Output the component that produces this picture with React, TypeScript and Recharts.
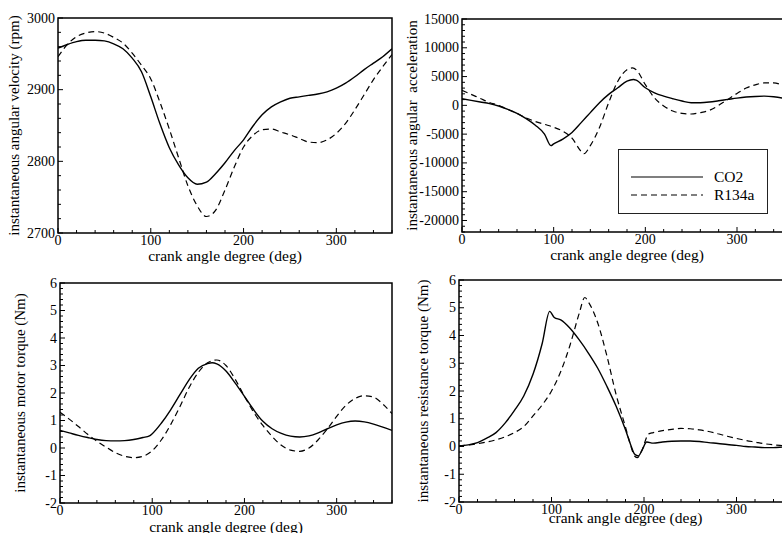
import React from 'react';
import { LineChart, Line, XAxis, YAxis, ReferenceArea, Legend } from 'recharts';

const FONT = "'Liberation Serif', 'DejaVu Serif', 'Times New Roman', serif";

// ---------- Panel 1: instantaneous angular velocity (rpm) ----------
const p1Angles = [0, 10, 20, 30, 40, 50, 60, 70, 80, 90, 100, 110, 120, 130, 140, 150, 160, 170, 180, 190, 200, 210, 220, 230, 240, 250, 260, 270, 280, 290, 300, 310, 320, 330, 340, 350, 360];
const p1Co2 = [2958, 2963, 2967, 2969, 2969, 2968, 2964, 2957, 2944, 2925, 2890, 2852, 2819, 2795, 2777, 2768, 2771, 2783, 2798, 2815, 2830, 2849, 2865, 2876, 2883, 2888, 2890, 2892, 2894, 2897, 2902, 2909, 2918, 2928, 2937, 2946, 2957];
const p1R134a = [2946, 2963, 2974, 2979, 2981, 2979, 2973, 2965, 2951, 2934, 2915, 2882, 2845, 2805, 2766, 2738, 2723, 2732, 2760, 2792, 2820, 2836, 2844, 2845, 2841, 2837, 2832, 2827, 2826, 2830, 2839, 2853, 2872, 2893, 2914, 2932, 2949];
const p1YLabels = [2700, 2800, 2900, 3000];

// ---------- Panel 2: instantaneous angular acceleration ----------
const p2Co2Angles = [0, 10, 20, 30, 40, 50, 60, 70, 80, 90, 97, 100, 110, 120, 130, 140, 150, 160, 170, 180, 187, 190, 200, 210, 220, 230, 240, 250, 260, 270, 280, 290, 300, 310, 320, 330, 340, 350, 360];
const p2Co2 = [1150, 860, 575, 290, -115, -690, -1380, -2300, -3450, -5000, -7000, -6700, -5860, -4700, -3000, -1260, 460, 1900, 3050, 4200, 4480, 4370, 3050, 2180, 1600, 1150, 750, 460, 460, 575, 800, 1030, 1260, 1440, 1550, 1600, 1500, 1260, 900];
const p2R134aAngles = [0, 10, 20, 30, 40, 50, 60, 70, 80, 90, 100, 110, 120, 130, 133, 140, 150, 160, 170, 180, 186, 190, 200, 210, 220, 230, 240, 250, 260, 270, 280, 290, 300, 310, 320, 330, 340, 350, 360];
const p2R134a = [2600, 1900, 1200, 500, 0, -700, -1400, -2200, -2800, -3300, -3800, -4500, -5700, -8000, -8400, -7000, -3850, 460, 4200, 6200, 6500, 6200, 3600, 1300, -100, -980, -1380, -1500, -1260, -860, 0, 1030, 2070, 3000, 3560, 3900, 3900, 3450, 2600];
const p2YLabels = [-20000, -15000, -10000, -5000, 0, 5000, 10000, 15000];

// ---------- Panel 3: instantaneous motor torque (Nm) ----------
const p3Co2Angles = [0, 10, 20, 30, 40, 50, 60, 70, 80, 90, 97, 100, 110, 120, 130, 140, 150, 160, 165, 170, 180, 190, 200, 210, 220, 230, 240, 250, 260, 270, 280, 290, 300, 310, 320, 330, 340, 350, 360];
const p3Co2 = [0.64, 0.55, 0.46, 0.38, 0.31, 0.27, 0.26, 0.27, 0.31, 0.38, 0.44, 0.52, 0.91, 1.39, 1.94, 2.48, 2.9, 3.07, 3.1, 3.06, 2.8, 2.36, 1.88, 1.39, 0.97, 0.7, 0.53, 0.43, 0.4, 0.44, 0.55, 0.7, 0.84, 0.94, 0.98, 0.95, 0.87, 0.76, 0.64];
const p3R134aAngles = [0, 10, 20, 30, 40, 50, 60, 70, 80, 90, 100, 110, 120, 130, 140, 150, 160, 170, 180, 190, 200, 210, 220, 230, 240, 250, 260, 270, 280, 290, 300, 310, 320, 330, 340, 350, 360];
const p3R134a = [1.3, 1.05, 0.78, 0.5, 0.25, 0.03, -0.17, -0.3, -0.35, -0.3, -0.1, 0.3, 0.85, 1.5, 2.2, 2.75, 3.1, 3.2, 3.0, 2.5, 1.88, 1.3, 0.82, 0.42, 0.1, -0.08, -0.12, 0.0, 0.3, 0.7, 1.15, 1.55, 1.8, 1.9, 1.85, 1.6, 1.25];
const p3YLabels = [-2, -1, 0, 1, 2, 3, 4, 5, 6];

// ---------- Panel 4: instantaneous resistance torque (Nm) ----------
const p4Co2Angles = [0, 10, 20, 30, 40, 50, 60, 70, 80, 90, 98, 103, 110, 120, 130, 140, 150, 160, 170, 180, 185, 190, 194, 198, 203, 210, 220, 230, 240, 250, 260, 270, 280, 290, 300, 310, 320, 330, 340, 350, 360];
const p4Co2 = [0.02, 0.06, 0.14, 0.3, 0.5, 0.85, 1.3, 1.82, 2.6, 3.72, 4.87, 4.65, 4.56, 4.26, 3.84, 3.36, 2.82, 2.16, 1.44, 0.6, 0.12, -0.28, -0.34, -0.12, 0.16, 0.12, 0.16, 0.19, 0.2, 0.2, 0.18, 0.14, 0.11, 0.07, 0.04, 0.0, -0.02, -0.04, -0.04, -0.02, 0.0];
const p4R134aAngles = [0, 10, 20, 30, 40, 50, 60, 70, 80, 90, 100, 110, 120, 130, 136, 140, 150, 160, 170, 180, 185, 190, 193, 197, 205, 210, 220, 230, 240, 250, 260, 270, 280, 290, 300, 310, 320, 330, 340, 350, 360];
const p4R134a = [0.02, 0.05, 0.1, 0.16, 0.24, 0.35, 0.5, 0.72, 1.1, 1.5, 2.0, 2.7, 3.65, 4.8, 5.37, 5.2, 4.45, 3.25, 1.85, 0.7, 0.1, -0.35, -0.4, -0.2, 0.45, 0.5, 0.57, 0.62, 0.65, 0.64, 0.6, 0.54, 0.46, 0.37, 0.29, 0.22, 0.16, 0.1, 0.06, 0.03, 0.0];
const p4YLabels = [-2, -1, 0, 1, 2, 3, 4, 5, 6];

const xLabels = [0, 100, 200, 300];
const seriesNames = ['CO2', 'R134a'];

// ---------- helpers ----------
const zip = (a: number[], v: number[]) => a.map((x, i) => ({ a: x, v: v[i] }));
const steps = (lo: number, hi: number, step: number) => {
  const out: number[] = [];
  const n = Math.round((hi - lo) / step);
  for (let i = 0; i <= n; i++) out.push(Math.round((lo + i * step) * 1000) / 1000);
  return out;
};
const xMinor = steps(0, 360, 20);

const textStyle = (size: number): React.CSSProperties => ({ fontFamily: FONT, fontSize: size });

const XTick = (props: any) => {
  const { x, y, payload, labels, dy } = props;
  const v = payload.value;
  const major = labels.includes(v);
  return (
    <g>
      <line x1={x} x2={x} y1={y} y2={y - (major ? 5 : 3)} stroke="#000" strokeWidth={1} />
      {major && (
        <text x={x} y={y + dy} textAnchor="middle" style={textStyle(14)} fill="#000">
          {v}
        </text>
      )}
    </g>
  );
};

const YTick = (props: any) => {
  const { x, y, payload, labels } = props;
  const v = payload.value;
  const major = labels.includes(v);
  return (
    <g>
      <line x1={x} x2={x + (major ? 5 : 3)} y1={y} y2={y} stroke="#000" strokeWidth={1} />
      {major && (
        <text x={x - 3} y={y + 4.5} textAnchor="end" style={textStyle(14)} fill="#000">
          {v}
        </text>
      )}
    </g>
  );
};

const XTitle = (props: any) => {
  const { viewBox, text, dy } = props;
  const cx = viewBox.x + viewBox.width / 2;
  return (
    <text x={cx} y={viewBox.y + dy} textAnchor="middle" style={textStyle(15.5)} fill="#000">
      {text}
    </text>
  );
};

const YTitle = (props: any) => {
  const { viewBox, text, px } = props;
  const cy = viewBox.y + viewBox.height / 2;
  const x = px;
  return (
    <text
      x={x}
      y={cy}
      transform={`rotate(-90 ${x} ${cy})`}
      textAnchor="middle"
      dominantBaseline="central"
      fill="#000"
      xmlSpace="preserve"
      style={{ ...textStyle(15), whiteSpace: 'pre' }}
    >
      {text}
    </text>
  );
};

const LegendBox = (props: any) => {
  const payload = props.payload || [];
  const rows = seriesNames.map((name, i) => {
    const entry = payload.find((p: any) => p.value === name);
    return { name, dash: i === 1 ? '6 4' : undefined, color: entry?.color || '#000' };
  });
  return (
    <svg width={151} height={66} style={{ display: 'block' }}>
      <rect x={0.5} y={0.5} width={149} height={64} fill="#fff" stroke="#222" strokeWidth={1} />
      {rows.map((r, i) => (
        <g key={r.name}>
          <line x1={13} x2={85} y1={28 + i * 18} y2={28 + i * 18} stroke="#000" strokeWidth={1.2} strokeDasharray={r.dash} />
          <text x={96} y={33 + i * 18} style={textStyle(15.5)} fill="#000">
            {r.name}
          </text>
        </g>
      ))}
    </svg>
  );
};

type PanelProps = {
  left: number;
  top: number;
  width: number;
  height: number;
  margin: { top: number; right: number; bottom: number; left: number };
  yAxisWidth: number;
  yDomain: [number, number];
  yTicks: number[];
  yLabels: number[];
  yTitle: string;
  yTitleX: number;
  xTitleDy: number;
  co2: { a: number; v: number }[];
  r134a: { a: number; v: number }[];
  legend?: boolean;
};

const Panel = (p: PanelProps) => (
  <div style={{ position: 'absolute', left: p.left, top: p.top, width: p.width, height: p.height, fontFamily: FONT }}>
    <LineChart width={p.width} height={p.height} margin={p.margin} style={{ fontFamily: FONT }}>
      <XAxis
        dataKey="a"
        type="number"
        domain={[0, 360]}
        ticks={xMinor}
        interval={0}
        allowDataOverflow
        height={30}
        tickSize={0}
        tickMargin={0}
        tickLine={false}
        axisLine={false}
        tick={<XTick labels={xLabels} dy={12} />}
        label={<XTitle text="crank angle degree (deg)" dy={p.xTitleDy} />}
      />
      <YAxis
        type="number"
        domain={p.yDomain}
        ticks={p.yTicks}
        interval={0}
        allowDataOverflow
        width={p.yAxisWidth}
        tickSize={0}
        tickMargin={0}
        tickLine={false}
        axisLine={false}
        tick={<YTick labels={p.yLabels} />}
        label={<YTitle text={p.yTitle} px={p.yTitleX} />}
      />
      <ReferenceArea x1={0} x2={360} y1={p.yDomain[0]} y2={p.yDomain[1]} fill="none" fillOpacity={0} stroke="#000" strokeWidth={1.5} ifOverflow="visible" />
      <Line data={p.co2} dataKey="v" name={seriesNames[0]} type="monotone" stroke="#000" strokeWidth={1.4} dot={false} isAnimationActive={false} />
      <Line data={p.r134a} dataKey="v" name={seriesNames[1]} type="monotone" stroke="#000" strokeWidth={1.2} strokeDasharray="6 4" dot={false} isAnimationActive={false} />
      {p.legend && (
        <Legend
          layout="horizontal"
          verticalAlign="middle"
          align="center"
          wrapperStyle={{ left: 218, top: 149, width: 151, height: 66 }}
          content={<LegendBox />}
        />
      )}
    </LineChart>
  </div>
);

export default function App() {
  return (
    <div style={{ position: 'fixed', left: 0, top: 0, width: 782, height: 533, overflow: 'hidden', background: '#fff', fontFamily: FONT }}>
      <Panel
        left={0}
        top={0}
        width={400}
        height={270}
        margin={{ top: 18, right: 8, bottom: 7, left: 0 }}
        yAxisWidth={58}
        yDomain={[2700, 3000]}
        yTicks={steps(2700, 3000, 20)}
        yLabels={p1YLabels}
        yTitle="instantaneous angular velocity (rpm)"
        yTitleX={14}
        xTitleDy={27.5}
        co2={zip(p1Angles, p1Co2)}
        r134a={zip(p1Angles, p1R134a)}
      />
      <Panel
        left={400}
        top={0}
        width={392}
        height={270}
        margin={{ top: 19, right: 0, bottom: 8, left: 0 }}
        yAxisWidth={62}
        yDomain={[-22000, 15000]}
        yTicks={steps(-22000, 15000, 1000)}
        yLabels={p2YLabels}
        yTitle="instantaneous angular  acceleration"
        yTitleX={12}
        xTitleDy={27.5}
        co2={zip(p2Co2Angles, p2Co2)}
        r134a={zip(p2R134aAngles, p2R134a)}
        legend
      />
      <Panel
        left={0}
        top={270}
        width={400}
        height={263}
        margin={{ top: 13, right: 8, bottom: 0, left: 0 }}
        yAxisWidth={60}
        yDomain={[-2, 6]}
        yTicks={steps(-2, 6, 0.2)}
        yLabels={p3YLabels}
        yTitle="instantaneous motor torque (Nm)"
        yTitleX={20}
        xTitleDy={28.5}
        co2={zip(p3Co2Angles, p3Co2)}
        r134a={zip(p3R134aAngles, p3R134a)}
      />
      <Panel
        left={400}
        top={270}
        width={392}
        height={263}
        margin={{ top: 10, right: 0, bottom: 1, left: 0 }}
        yAxisWidth={59}
        yDomain={[-2, 6]}
        yTicks={steps(-2, 6, 0.2)}
        yLabels={p4YLabels}
        yTitle="instantaneous resistance torque (Nm)"
        yTitleX={23}
        xTitleDy={20.5}
        co2={zip(p4Co2Angles, p4Co2)}
        r134a={zip(p4R134aAngles, p4R134a)}
      />
    </div>
  );
}
